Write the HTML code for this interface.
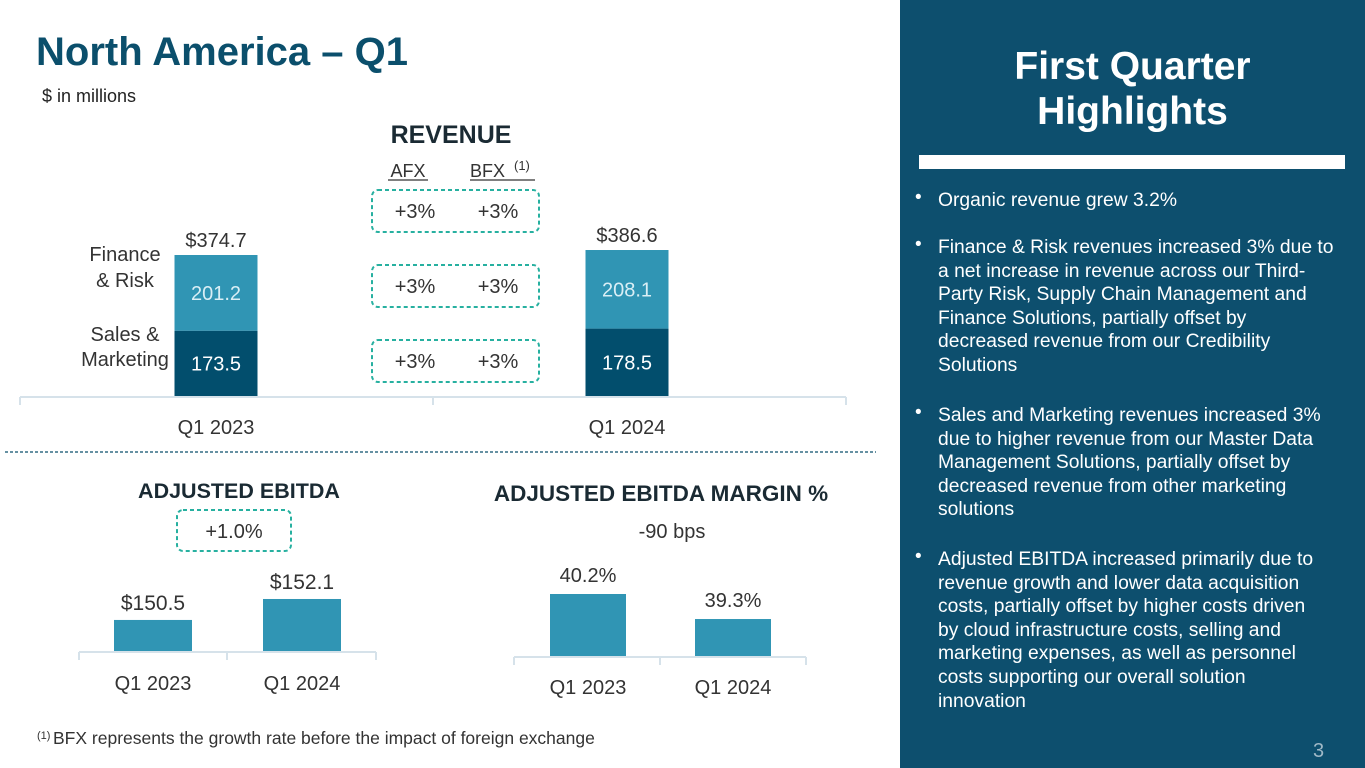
<!DOCTYPE html>
<html><head><meta charset="utf-8"><style>
body{margin:0;width:1365px;height:768px;position:relative;background:#fff;font-family:"Liberation Sans",sans-serif;overflow:hidden}
.a{position:absolute;white-space:nowrap}
.panel{position:absolute;left:900px;top:0;width:465px;height:768px;background:#0d4f6e}
.hl{position:absolute;left:38px;color:#fff;font-size:19.3px;line-height:23.6px;white-space:nowrap}
.bul{position:absolute;left:15px;color:#fff;font-size:19px}
</style></head><body>
<div class="a" style="left:36px;top:30px;font-size:40px;font-weight:bold;color:#0b4f6c">North America – Q1</div>
<div class="a" style="left:42px;top:86px;font-size:18px;color:#222">$ in millions</div>

<svg id="chart" width="900" height="768" style="position:absolute;left:0;top:0" font-family="Liberation Sans, sans-serif"></svg>

<div class="panel">
<div class="a" style="left:0;width:465px;text-align:center;top:44px;font-size:39px;font-weight:bold;color:#fff;line-height:45px">First Quarter<br>Highlights</div>
<div class="a" style="left:19px;top:155px;width:426px;height:14px;background:#fff"></div>
<div class="bul" style="top:187px">•</div>
<div class="hl" style="top:189px">Organic revenue grew 3.2%</div>
<div class="bul" style="top:234px">•</div>
<div class="hl" style="top:236px">Finance &amp; Risk revenues increased 3% due to<br>a net increase in revenue across our Third-<br>Party Risk, Supply Chain Management and<br>Finance Solutions, partially offset by<br>decreased revenue from our Credibility<br>Solutions</div>
<div class="bul" style="top:402px">•</div>
<div class="hl" style="top:404px">Sales and Marketing revenues increased 3%<br>due to higher revenue from our Master Data<br>Management Solutions, partially offset by<br>decreased revenue from other marketing<br>solutions</div>
<div class="bul" style="top:546px">•</div>
<div class="hl" style="top:548px">Adjusted EBITDA increased primarily due to<br>revenue growth and lower data acquisition<br>costs, partially offset by higher costs driven<br>by cloud infrastructure costs, selling and<br>marketing expenses, as well as personnel<br>costs supporting our overall solution<br>innovation</div>
<div class="a" style="left:413px;top:740px;font-size:20px;color:#9fb8c6">3</div>
</div>

<script>
const revCategories=["Q1 2023","Q1 2024"];
const salesMarketing=[173.5,178.5];
const financeRisk=[201.2,208.1];
const revTotalLabels=["$374.7","$386.6"];
const ebitdaCategories=["Q1 2023","Q1 2024"];
const ebitdaValues=[150.5,152.1];
const ebitdaLabels=["$150.5","$152.1"];
const marginCategories=["Q1 2023","Q1 2024"];
const marginValues=[40.2,39.3];
const marginLabels=["40.2%","39.3%"];
const growthAFX=["+3%","+3%","+3%"];
const growthBFX=["+3%","+3%","+3%"];

const svg=document.getElementById('chart');
const NS='http://www.w3.org/2000/svg';
function mk(tag,attrs,txt){const e=document.createElementNS(NS,tag);for(const k in attrs)e.setAttribute(k,attrs[k]);if(txt!==undefined)e.textContent=txt;svg.appendChild(e);return e;}
const LIGHT='#3095b4',DARK='#024e6d',AX='#d6e2ea';

const revBase=396;
function revH(v){return (v-39)*0.42;}
const revCenters=[216,627];
mk('line',{x1:20,y1:397,x2:846,y2:397,stroke:AX,'stroke-width':2});
[20,433,846].forEach(x=>{mk('line',{x1:x,y1:397,x2:x,y2:405,stroke:AX,'stroke-width':2});});
revCategories.forEach((c,i)=>{
 const tot=salesMarketing[i]+financeRisk[i];
 const h=revH(tot),hs=h*salesMarketing[i]/tot;
 const cx=revCenters[i],w=83;
 const r1=mk('rect',{x:cx-w/2,y:revBase-hs,width:w,height:hs,fill:DARK});
 
 
 const r2=mk('rect',{x:cx-w/2,y:revBase-h,width:w,height:h-hs,fill:LIGHT});
 
 
 mk('text',{x:cx,y:revBase-hs/2+7,'text-anchor':'middle','font-size':20,fill:'#fff'},salesMarketing[i].toFixed(1));
 mk('text',{x:cx,y:revBase-hs-(h-hs)/2+7,'text-anchor':'middle','font-size':20,fill:'#d9eef5'},financeRisk[i].toFixed(1));
 mk('text',{x:cx,y:revBase-h-8,'text-anchor':'middle','font-size':20,fill:'#333'},revTotalLabels[i]);
 mk('text',{x:cx,y:434,'text-anchor':'middle','font-size':20,fill:'#333'},c);
});
mk('text',{x:125,y:261,'text-anchor':'middle','font-size':20,fill:'#333'},'Finance');
mk('text',{x:125,y:287,'text-anchor':'middle','font-size':20,fill:'#333'},'& Risk');
mk('text',{x:125,y:341,'text-anchor':'middle','font-size':20,fill:'#333'},'Sales &');
mk('text',{x:125,y:366,'text-anchor':'middle','font-size':20,fill:'#333'},'Marketing');
mk('text',{x:451,y:143,'text-anchor':'middle','font-size':25,'font-weight':'bold',fill:'#1a2a33'},'REVENUE');
mk('text',{x:408,y:177,'text-anchor':'middle','font-size':18,fill:'#333'},'AFX');
mk('line',{x1:388,y1:180,x2:428,y2:180,stroke:'#333','stroke-width':1.3});
mk('text',{x:470,y:177,'font-size':18,fill:'#333'},'BFX');
mk('text',{x:514,y:170,'font-size':13,fill:'#333'},'(1)');
mk('line',{x1:470,y1:180,x2:535,y2:180,stroke:'#333','stroke-width':1.3});
const boxY=[190,265,340];
growthAFX.forEach((g,i)=>{
 const b=mk('rect',{x:372,y:boxY[i],width:167,height:42,rx:6,fill:'none',stroke:'#27b0a0','stroke-width':2,'stroke-dasharray':'4,3'});
 
 
 mk('text',{x:415,y:boxY[i]+28,'text-anchor':'middle','font-size':20,fill:'#333'},g);
 mk('text',{x:498,y:boxY[i]+28,'text-anchor':'middle','font-size':20,fill:'#333'},growthBFX[i]);
});
mk('line',{x1:5,y1:452,x2:876,y2:452,stroke:'#0b4f6c','stroke-width':1.3,'stroke-dasharray':'3,2'});

const ebBase=651;
function ebH(v){return (v-148.13)*13.1;}
const ebCenters=[153,302];
mk('line',{x1:79,y1:652,x2:376,y2:652,stroke:AX,'stroke-width':2});
[79,227,376].forEach(x=>mk('line',{x1:x,y1:652,x2:x,y2:660,stroke:AX,'stroke-width':2}));
ebitdaValues.forEach((v,i)=>{
 const h=ebH(v);
 const r=mk('rect',{x:ebCenters[i]-39,y:ebBase-h,width:78,height:h,fill:LIGHT});
 
 
 mk('text',{x:ebCenters[i],y:ebBase-h-10,'text-anchor':'middle','font-size':21,fill:'#333'},ebitdaLabels[i]);
 mk('text',{x:ebCenters[i],y:690,'text-anchor':'middle','font-size':20,fill:'#333'},ebitdaCategories[i]);
});
mk('text',{x:239,y:498,'text-anchor':'middle','font-size':21.5,'font-weight':'bold',fill:'#1a2a33'},'ADJUSTED EBITDA');
mk('rect',{x:177,y:510,width:114,height:41,rx:6,fill:'none',stroke:'#27b0a0','stroke-width':2,'stroke-dasharray':'4,3'});
mk('text',{x:234,y:538,'text-anchor':'middle','font-size':20,fill:'#333'},'+1.0%');

const mBase=656;
function mH(v){return (v-37.97)*27.8;}
const mCenters=[588,733];
mk('line',{x1:514,y1:657,x2:806,y2:657,stroke:AX,'stroke-width':2});
[514,660,806].forEach(x=>mk('line',{x1:x,y1:657,x2:x,y2:665,stroke:AX,'stroke-width':2}));
marginValues.forEach((v,i)=>{
 const h=mH(v);
 const r=mk('rect',{x:mCenters[i]-38,y:mBase-h,width:76,height:h,fill:LIGHT});
 
 
 mk('text',{x:mCenters[i],y:mBase-h-12,'text-anchor':'middle','font-size':20,fill:'#333'},marginLabels[i]);
 mk('text',{x:mCenters[i],y:694,'text-anchor':'middle','font-size':20,fill:'#333'},marginCategories[i]);
});
mk('text',{x:661,y:501,'text-anchor':'middle','font-size':22.5,'font-weight':'bold',fill:'#1a2a33'},'ADJUSTED EBITDA MARGIN %');
mk('text',{x:672,y:538,'text-anchor':'middle','font-size':20,fill:'#333'},'-90 bps');

mk('text',{x:37,y:739,'font-size':11,fill:'#333'},'(1)');
mk('text',{x:53,y:744,'font-size':17.5,fill:'#333'},'BFX represents the growth rate before the impact of foreign exchange');
</script>
</body></html>
